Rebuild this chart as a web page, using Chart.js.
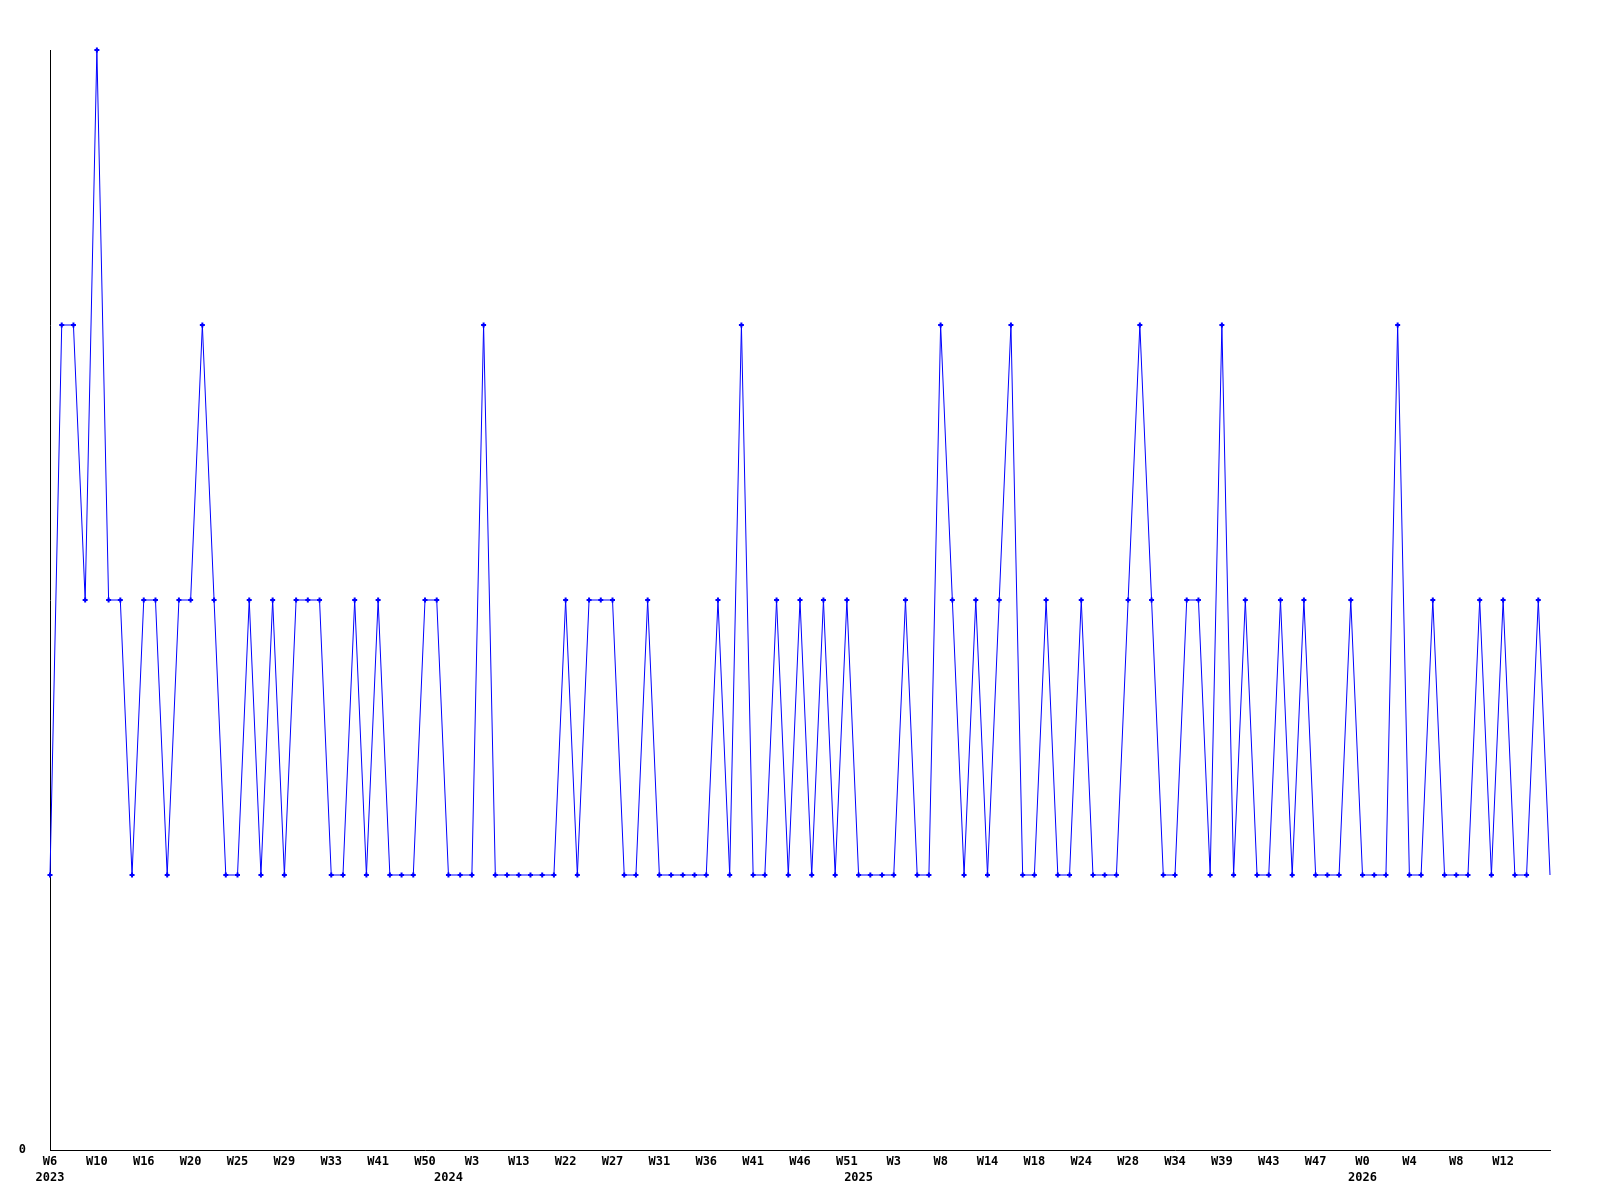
<!DOCTYPE html>
<html>
<head>
<meta charset="utf-8">
<script src="https://cdn.jsdelivr.net/npm/chart.js@4/dist/chart.umd.min.js"></script>
<style>
  html, body { margin: 0; padding: 0; background: #fff; }
  canvas { display: block; }
</style>
</head>
<body>
<canvas id="weekChart" width="1600" height="1200"></canvas>
<script>
// one value per point
const values = [
  1, 3, 3, 2, 4, 2, 2, 1, 2, 2,
  1, 2, 2, 3, 2, 1, 1, 2, 1, 2,
  1, 2, 2, 2, 1, 1, 2, 1, 2, 1,
  1, 1, 2, 2, 1, 1, 1, 3, 1, 1,
  1, 1, 1, 1, 2, 1, 2, 2, 2, 1,
  1, 2, 1, 1, 1, 1, 1, 2, 1, 3,
  1, 1, 2, 1, 2, 1, 2, 1, 2, 1,
  1, 1, 1, 2, 1, 1, 3, 2, 1, 2,
  1, 2, 3, 1, 1, 2, 1, 1, 2, 1,
  1, 1, 2, 3, 2, 1, 1, 2, 2, 1,
  3, 1, 2, 1, 1, 2, 1, 2, 1, 1,
  1, 2, 1, 1, 1, 3, 1, 1, 2, 1,
  1, 1, 2, 1, 2, 1, 1, 2, 1
];

// week labels shown under every 4th point
const weekLabels = [
  'W6', 'W10', 'W16', 'W20', 'W25', 'W29', 'W33', 'W41', 'W50', 'W3', 'W13',
  'W22', 'W27', 'W31', 'W36', 'W41', 'W46', 'W51', 'W3', 'W8', 'W14', 'W18',
  'W24', 'W28', 'W34', 'W39', 'W43', 'W47', 'W0', 'W4', 'W8', 'W12'
];
const labelEvery = 4;

// year labels on the second line and the point they sit under
const yearLabels = ['2023', '2024', '2025', '2026'];
const yearAt = [0, 34, 69, 112];

const categories = values.map((v, i) => i);
const font = { family: '"DejaVu Sans Mono", "Liberation Mono", monospace', size: 12, weight: 'bold', lineHeight: 1.35 };

function tickLabel(i) {
  const week = i % labelEvery === 0 ? weekLabels[i / labelEvery] : undefined;
  const y = yearAt.indexOf(i);
  if (y >= 0) return [week || '', yearLabels[y]];
  return week === undefined ? null : week;
}

new Chart(document.getElementById('weekChart').getContext('2d'), {
  type: 'line',
  data: {
    labels: categories,
    datasets: [{
      data: values,
      borderColor: '#0000ff',
      backgroundColor: '#0000ff',
      borderWidth: 1,
      tension: 0,
      fill: false,
      clip: false,
      pointStyle: 'cross',
      pointRadius: ctx => (ctx.dataIndex === values.length - 1 ? 0 : 2.5),
      pointBorderWidth: 2,
      pointBorderColor: '#0000ff'
    }]
  },
  options: {
    responsive: false,
    animation: false,
    events: [],
    layout: { padding: { top: 50, right: 50, left: 0, bottom: 0 } },
    plugins: { legend: { display: false }, tooltip: { enabled: false } },
    scales: {
      x: {
        type: 'category',
        offset: false,
        grid: { display: false, drawTicks: false },
        border: { display: true, color: '#000', width: 1 },
        afterFit: s => { s.height = 50; },
        ticks: {
          autoSkip: false,
          maxRotation: 0,
          minRotation: 0,
          padding: 4,
          color: '#000',
          font: font,
          callback: (v, i) => tickLabel(i)
        }
      },
      y: {
        min: 0,
        max: 4,
        grid: { display: false, drawTicks: false },
        border: { display: true, color: '#000', width: 1 },
        afterFit: s => { s.width = 50; },
        ticks: {
          stepSize: 1,
          padding: 24,
          color: '#000',
          font: font,
          callback: v => (v === 0 ? '0' : '')
        }
      }
    }
  }
});
</script>
</body>
</html>
